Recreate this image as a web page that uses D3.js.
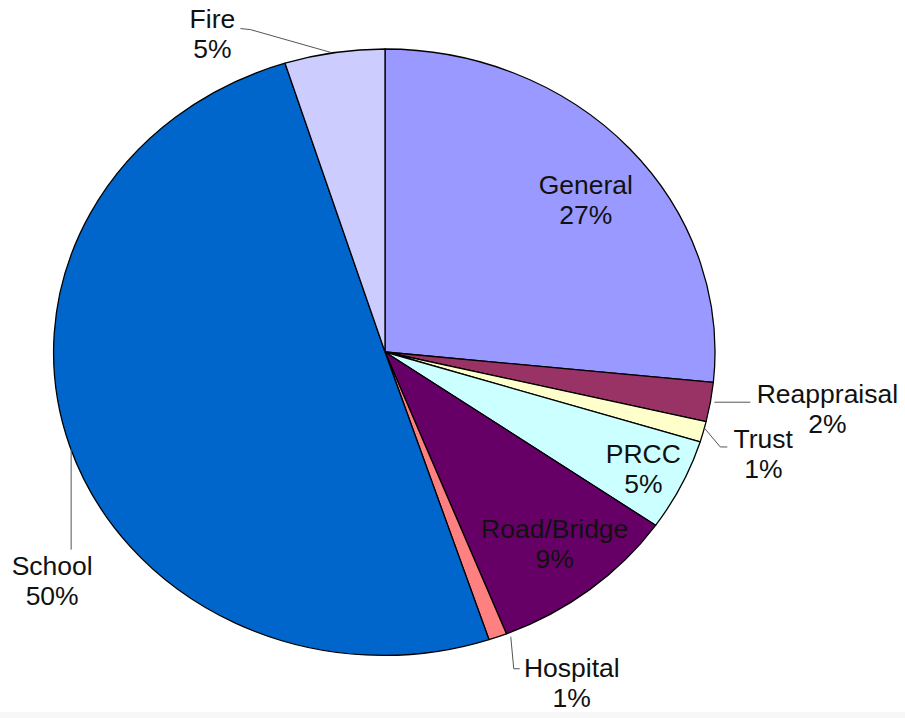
<!DOCTYPE html>
<html>
<head>
<meta charset="utf-8">
<script src="https://cdn.jsdelivr.net/npm/d3@7"></script>
<style>
  html, body { margin: 0; padding: 0; background: #ffffff; }
  svg { display: block; }
  text { font-family: "Liberation Sans", Arial, sans-serif; font-size: 26.5px; fill: #111111; }
</style>
</head>
<body>
<svg id="chart" width="905" height="718"></svg>
<script>
// ---- Data ----
const categories = ["General", "Reappraisal", "Trust", "PRCC", "Road/Bridge", "Hospital", "School", "Fire"];
const values     = [26.6, 2.1, 1.1, 4.9, 9.3, 0.9, 50.2, 4.9];
const colors     = ["#9999ff", "#993366", "#ffffcc", "#ccffff", "#660066", "#ff8080", "#0066cc", "#ccccff"];

// ---- Layout (label placement relative to each slice's outer mid-point) ----
// text: [dx, dy] of label centre / first baseline; leader: list of [dx, dy] points (empty = no leader)
const labelLayout = [
  { text: [-44, 45],  leader: [] },
  { text: [117, 1],   leader: [[4, 0], [40, 0]] },
  { text: [60, 16],   leader: [[1, -4], [17, 15], [24, 15]] },
  { text: [-38, -22], leader: [] },
  { text: [-35, -52], leader: [] },
  { text: [74, 40],   leader: [[13, 0], [16, 32], [22, 32]] },
  { text: [-19, 129], leader: [[0, 3], [0, 104]] },
  { text: [-122, -25], leader: [[-3, 0], [-84, -23], [-94, -24]] }
];

const W = 905, H = 718;
const cx = 385, cy = 352, rx = 330, ry = 303;

const svg = d3.select("#chart");

// faint bottom band
svg.append("rect").attr("x", 0).attr("y", 712).attr("width", W).attr("height", H - 712)
  .attr("fill", "#f7f7f7");

const total = d3.sum(values);
const data = categories.map((c, i) => ({ name: c, value: values[i], color: colors[i], layout: labelLayout[i] }));

const pie = d3.pie().value(d => d.value).sort(null).startAngle(0).endAngle(2 * Math.PI);
const arcs = pie(data);

const sx = d3.scaleLinear().domain([-1, 1]).range([cx - rx, cx + rx]);
const sy = d3.scaleLinear().domain([-1, 1]).range([cy - ry, cy + ry]);

const arc = d3.arc().innerRadius(0).outerRadius(1);

const g = svg.append("g").attr("transform", `translate(${cx},${cy}) scale(${rx},${ry})`);
g.selectAll("path.slice")
  .data(arcs)
  .enter().append("path")
  .attr("class", "slice")
  .attr("d", arc)
  .attr("fill", d => d.data.color)
  .attr("stroke", "#000000")
  .attr("stroke-width", 1.3)
  .attr("stroke-linejoin", "round")
  .attr("vector-effect", "non-scaling-stroke");

// edge mid point in page coords
function edgePoint(d) {
  const a = (d.startAngle + d.endAngle) / 2;
  return [sx(Math.sin(a)), sy(-Math.cos(a))];
}

const fmt = v => Math.round(v / total * 100) + "%";

const labels = svg.append("g");
arcs.forEach(d => {
  const [ex, ey] = edgePoint(d);
  const L = d.data.layout;
  if (L.leader.length) {
    labels.append("path")
      .attr("d", d3.line()(L.leader.map(p => [ex + p[0], ey + p[1]])))
      .attr("fill", "none")
      .attr("stroke", "#555555")
      .attr("stroke-width", 1);
  }
  const t = labels.append("text")
    .attr("text-anchor", "middle")
    .attr("x", ex + L.text[0])
    .attr("y", ey + L.text[1]);
  t.append("tspan").attr("x", ex + L.text[0]).text(d.data.name);
  t.append("tspan").attr("x", ex + L.text[0]).attr("dy", 30).text(fmt(d.data.value));
});
</script>
</body>
</html>
